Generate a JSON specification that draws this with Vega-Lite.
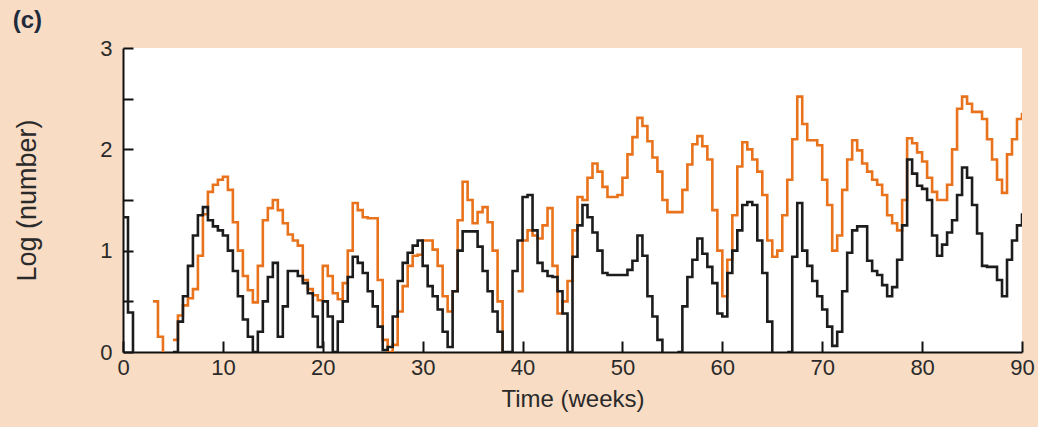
{
"$schema": "https://vega.github.io/schema/vega-lite/v6.json",
"width": 899, "height": 304,
"autosize": {"type": "none"},
"padding": {"left": 123, "top": 48, "right": 16, "bottom": 75},
"background": "#f9dcc4",
"title": {"text": "(c)", "anchor": "start", "frame": "bounds", "fontSize": 24, "fontWeight": "bold", "color": "#1f2a3a", "font": "Liberation Sans", "offset": 4, "dx": -1},
"config": {"view": {"fill": "white", "stroke": null}},
"data": {"values": [
{"week":0,"orange":null,"black":1.33},{"week":0.5,"orange":null,"black":0.39},{"week":1,"orange":null,"black":0},{"week":1.5,"orange":null,"black":null},
{"week":2,"orange":null,"black":null},{"week":2.5,"orange":null,"black":null},{"week":3,"orange":0.5,"black":null},{"week":3.5,"orange":0.15,"black":null},
{"week":4,"orange":0,"black":null},{"week":4.5,"orange":null,"black":null},{"week":5,"orange":0.12,"black":0},{"week":5.5,"orange":0.36,"black":0.3},
{"week":6,"orange":0.46,"black":0.55},{"week":6.5,"orange":0.53,"black":0.85},{"week":7,"orange":0.62,"black":1.15},{"week":7.5,"orange":0.95,"black":1.35},
{"week":8,"orange":1.36,"black":1.43},{"week":8.5,"orange":1.58,"black":1.3},{"week":9,"orange":1.65,"black":1.24},{"week":9.5,"orange":1.7,"black":1.2},
{"week":10,"orange":1.73,"black":1.15},{"week":10.5,"orange":1.6,"black":1.0},{"week":11,"orange":1.28,"black":0.8},{"week":11.5,"orange":1.0,"black":0.55},
{"week":12,"orange":0.75,"black":0.32},{"week":12.5,"orange":0.61,"black":0.15},{"week":13,"orange":0.49,"black":0},{"week":13.5,"orange":0.85,"black":0.2},
{"week":14,"orange":1.3,"black":0.5},{"week":14.5,"orange":1.42,"black":0.74},{"week":15,"orange":1.5,"black":0.88},{"week":15.5,"orange":1.4,"black":0.15},
{"week":16,"orange":1.27,"black":0.45},{"week":16.5,"orange":1.16,"black":0.8},{"week":17,"orange":1.1,"black":0.8},{"week":17.5,"orange":1.05,"black":0.75},
{"week":18,"orange":0.71,"black":0.68},{"week":18.5,"orange":0.62,"black":0.58},{"week":19,"orange":0.56,"black":0.35},{"week":19.5,"orange":0.51,"black":0.05},
{"week":20,"orange":0.85,"black":0.5},{"week":20.5,"orange":0.75,"black":0.35},{"week":21,"orange":0.58,"black":0},{"week":21.5,"orange":0.52,"black":0.3},
{"week":22,"orange":0.68,"black":0.5},{"week":22.5,"orange":1.0,"black":0.74},{"week":23,"orange":1.47,"black":0.94},{"week":23.5,"orange":1.4,"black":0.88},
{"week":24,"orange":1.33,"black":0.78},{"week":24.5,"orange":1.32,"black":0.6},{"week":25,"orange":1.32,"black":0.45},{"week":25.5,"orange":0.71,"black":0.25},
{"week":26,"orange":0.12,"black":0.02},{"week":26.5,"orange":0,"black":0.05},{"week":27,"orange":0.07,"black":0.35},{"week":27.5,"orange":0.4,"black":0.7},
{"week":28,"orange":0.65,"black":0.88},{"week":28.5,"orange":0.85,"black":0.98},{"week":29,"orange":0.95,"black":1.05},{"week":29.5,"orange":0.96,"black":1.1},
{"week":30,"orange":1.1,"black":0.85},{"week":30.5,"orange":1.1,"black":0.65},{"week":31,"orange":1.01,"black":0.55},{"week":31.5,"orange":0.85,"black":0.42},
{"week":32,"orange":0.55,"black":0.2},{"week":32.5,"orange":0.4,"black":0.05},{"week":33,"orange":0.6,"black":0.6},{"week":33.5,"orange":1.3,"black":1.0},
{"week":34,"orange":1.68,"black":1.19},{"week":34.5,"orange":1.5,"black":1.19},{"week":35,"orange":1.27,"black":1.19},{"week":35.5,"orange":1.38,"black":1.04},
{"week":36,"orange":1.43,"black":0.8},{"week":36.5,"orange":1.28,"black":0.6},{"week":37,"orange":1.0,"black":0.4},{"week":37.5,"orange":0.5,"black":0.2},
{"week":38,"orange":0,"black":0},{"week":38.5,"orange":null,"black":0},{"week":39,"orange":null,"black":0.8},{"week":39.5,"orange":0.6,"black":1.1},
{"week":40,"orange":1.1,"black":1.53},{"week":40.5,"orange":1.2,"black":1.55},{"week":41,"orange":1.15,"black":1.2},{"week":41.5,"orange":1.12,"black":0.88},
{"week":42,"orange":1.25,"black":0.8},{"week":42.5,"orange":1.42,"black":0.75},{"week":43,"orange":0.85,"black":0.74},{"week":43.5,"orange":0.38,"black":0.6},
{"week":44,"orange":0.5,"black":0.38},{"week":44.5,"orange":0.7,"black":0},{"week":45,"orange":1.2,"black":0.94},{"week":45.5,"orange":1.53,"black":1.25},
{"week":46,"orange":1.5,"black":1.45},{"week":46.5,"orange":1.72,"black":1.33},{"week":47,"orange":1.86,"black":1.18},{"week":47.5,"orange":1.78,"black":1.0},
{"week":48,"orange":1.63,"black":0.78},{"week":48.5,"orange":1.53,"black":0.76},{"week":49,"orange":1.53,"black":0.76},{"week":49.5,"orange":1.55,"black":0.76},
{"week":50,"orange":1.72,"black":0.76},{"week":50.5,"orange":1.95,"black":0.81},{"week":51,"orange":2.12,"black":0.9},{"week":51.5,"orange":2.31,"black":1.15},
{"week":52,"orange":2.23,"black":0.95},{"week":52.5,"orange":2.08,"black":0.55},{"week":53,"orange":1.92,"black":0.35},{"week":53.5,"orange":1.78,"black":0.12},
{"week":54,"orange":1.5,"black":0},{"week":54.5,"orange":1.38,"black":null},{"week":55,"orange":1.38,"black":null},{"week":55.5,"orange":1.38,"black":0},
{"week":56,"orange":1.6,"black":0.45},{"week":56.5,"orange":1.85,"black":0.74},{"week":57,"orange":2.05,"black":0.91},{"week":57.5,"orange":2.13,"black":1.12},
{"week":58,"orange":2.03,"black":0.97},{"week":58.5,"orange":1.9,"black":0.84},{"week":59,"orange":1.4,"black":0.68},{"week":59.5,"orange":1.0,"black":0.38},
{"week":60,"orange":0.55,"black":0.35},{"week":60.5,"orange":0.91,"black":0.78},{"week":61,"orange":1.35,"black":1.0},{"week":61.5,"orange":1.83,"black":1.2},
{"week":62,"orange":2.07,"black":1.45},{"week":62.5,"orange":2.0,"black":1.48},{"week":63,"orange":1.9,"black":1.45},{"week":63.5,"orange":1.78,"black":1.1},
{"week":64,"orange":1.55,"black":0.78},{"week":64.5,"orange":1.1,"black":0.3},{"week":65,"orange":0.94,"black":0},{"week":65.5,"orange":1.0,"black":null},
{"week":66,"orange":1.35,"black":null},{"week":66.5,"orange":1.7,"black":0},{"week":67,"orange":2.1,"black":0.94},{"week":67.5,"orange":2.52,"black":1.47},
{"week":68,"orange":2.25,"black":1.0},{"week":68.5,"orange":2.09,"black":0.85},{"week":69,"orange":2.09,"black":0.7},{"week":69.5,"orange":2.04,"black":0.55},
{"week":70,"orange":1.7,"black":0.42},{"week":70.5,"orange":1.45,"black":0.25},{"week":71,"orange":1.0,"black":0.06},{"week":71.5,"orange":1.15,"black":0.2},
{"week":72,"orange":1.6,"black":0.6},{"week":72.5,"orange":1.9,"black":0.98},{"week":73,"orange":2.09,"black":1.2},{"week":73.5,"orange":1.99,"black":1.24},
{"week":74,"orange":1.86,"black":1.24},{"week":74.5,"orange":1.78,"black":0.9},{"week":75,"orange":1.7,"black":0.8},{"week":75.5,"orange":1.65,"black":0.76},
{"week":76,"orange":1.55,"black":0.66},{"week":76.5,"orange":1.35,"black":0.55},{"week":77,"orange":1.27,"black":0.64},{"week":77.5,"orange":1.2,"black":0.91},
{"week":78,"orange":1.5,"black":1.25},{"week":78.5,"orange":2.11,"black":1.9},{"week":79,"orange":2.06,"black":1.76},{"week":79.5,"orange":1.97,"black":1.64},
{"week":80,"orange":1.88,"black":1.61},{"week":80.5,"orange":1.72,"black":1.5},{"week":81,"orange":1.58,"black":1.15},{"week":81.5,"orange":1.5,"black":0.95},
{"week":82,"orange":1.5,"black":1.06},{"week":82.5,"orange":1.65,"black":1.18},{"week":83,"orange":2.0,"black":1.3},{"week":83.5,"orange":2.4,"black":1.55},
{"week":84,"orange":2.52,"black":1.82},{"week":84.5,"orange":2.45,"black":1.72},{"week":85,"orange":2.37,"black":1.45},{"week":85.5,"orange":2.37,"black":1.17},
{"week":86,"orange":2.3,"black":0.85},{"week":86.5,"orange":2.1,"black":0.84},{"week":87,"orange":1.9,"black":0.84},{"week":87.5,"orange":1.7,"black":0.71},
{"week":88,"orange":1.57,"black":0.55},{"week":88.5,"orange":1.95,"black":0.91},{"week":89,"orange":2.1,"black":1.1},{"week":89.5,"orange":2.3,"black":1.25},
{"week":90,"orange":2.36,"black":1.37}
]},
"encoding": {
  "x": {"field": "week", "type": "quantitative", "scale": {"domain": [0, 90], "nice": false, "zero": false},
    "axis": {"title": "Time (weeks)", "values": [0,10,20,30,40,50,60,70,80,90], "grid": false,
      "domainColor": "#111", "domainWidth": 2, "tickColor": "#111", "tickWidth": 2, "tickSize": -11,
      "labelFont": "Liberation Sans", "labelFontSize": 22, "labelColor": "#2a2a2a", "labelPadding": 16, "labelFlush": false,
      "titleFont": "Liberation Sans", "titleFontSize": 24, "titleFontWeight": "normal", "titleColor": "#2a2a2a", "titlePadding": 9}}
},
"layer": [
  {"mark": {"type": "line", "interpolate": "step-after", "color": "#e8731c", "strokeWidth": 2.6, "invalid": "break-paths-filter-domains", "clip": true},
   "encoding": {"y": {"field": "orange", "type": "quantitative", "scale": {"domain": [0, 3], "nice": false},
     "axis": {"title": "Log (number)", "values": [0,0.5,1,1.5,2,2.5,3], "labelExpr": "datum.value % 1 === 0 ? format(datum.value, 'd') : ''", "grid": false,
       "domainColor": "#111", "domainWidth": 2, "tickColor": "#111", "tickWidth": 2, "tickSize": -10,
       "labelFont": "Liberation Sans", "labelFontSize": 22, "labelColor": "#2a2a2a", "labelPadding": 21,
       "titleFont": "Liberation Sans", "titleFontSize": 27, "titleFontWeight": "normal", "titleColor": "#2a2a2a", "titlePadding": 58}}}},
  {"mark": {"type": "line", "interpolate": "step-after", "color": "#1c1c1c", "strokeWidth": 2.6, "invalid": "break-paths-filter-domains", "clip": true},
   "encoding": {"y": {"field": "black", "type": "quantitative", "scale": {"domain": [0, 3], "nice": false},
     "axis": {"title": "Log (number)", "values": [0,0.5,1,1.5,2,2.5,3], "labelExpr": "datum.value % 1 === 0 ? format(datum.value, 'd') : ''", "grid": false,
       "domainColor": "#111", "domainWidth": 2, "tickColor": "#111", "tickWidth": 2, "tickSize": -10,
       "labelFont": "Liberation Sans", "labelFontSize": 22, "labelColor": "#2a2a2a", "labelPadding": 21,
       "titleFont": "Liberation Sans", "titleFontSize": 27, "titleFontWeight": "normal", "titleColor": "#2a2a2a", "titlePadding": 58}}}}
]
}
